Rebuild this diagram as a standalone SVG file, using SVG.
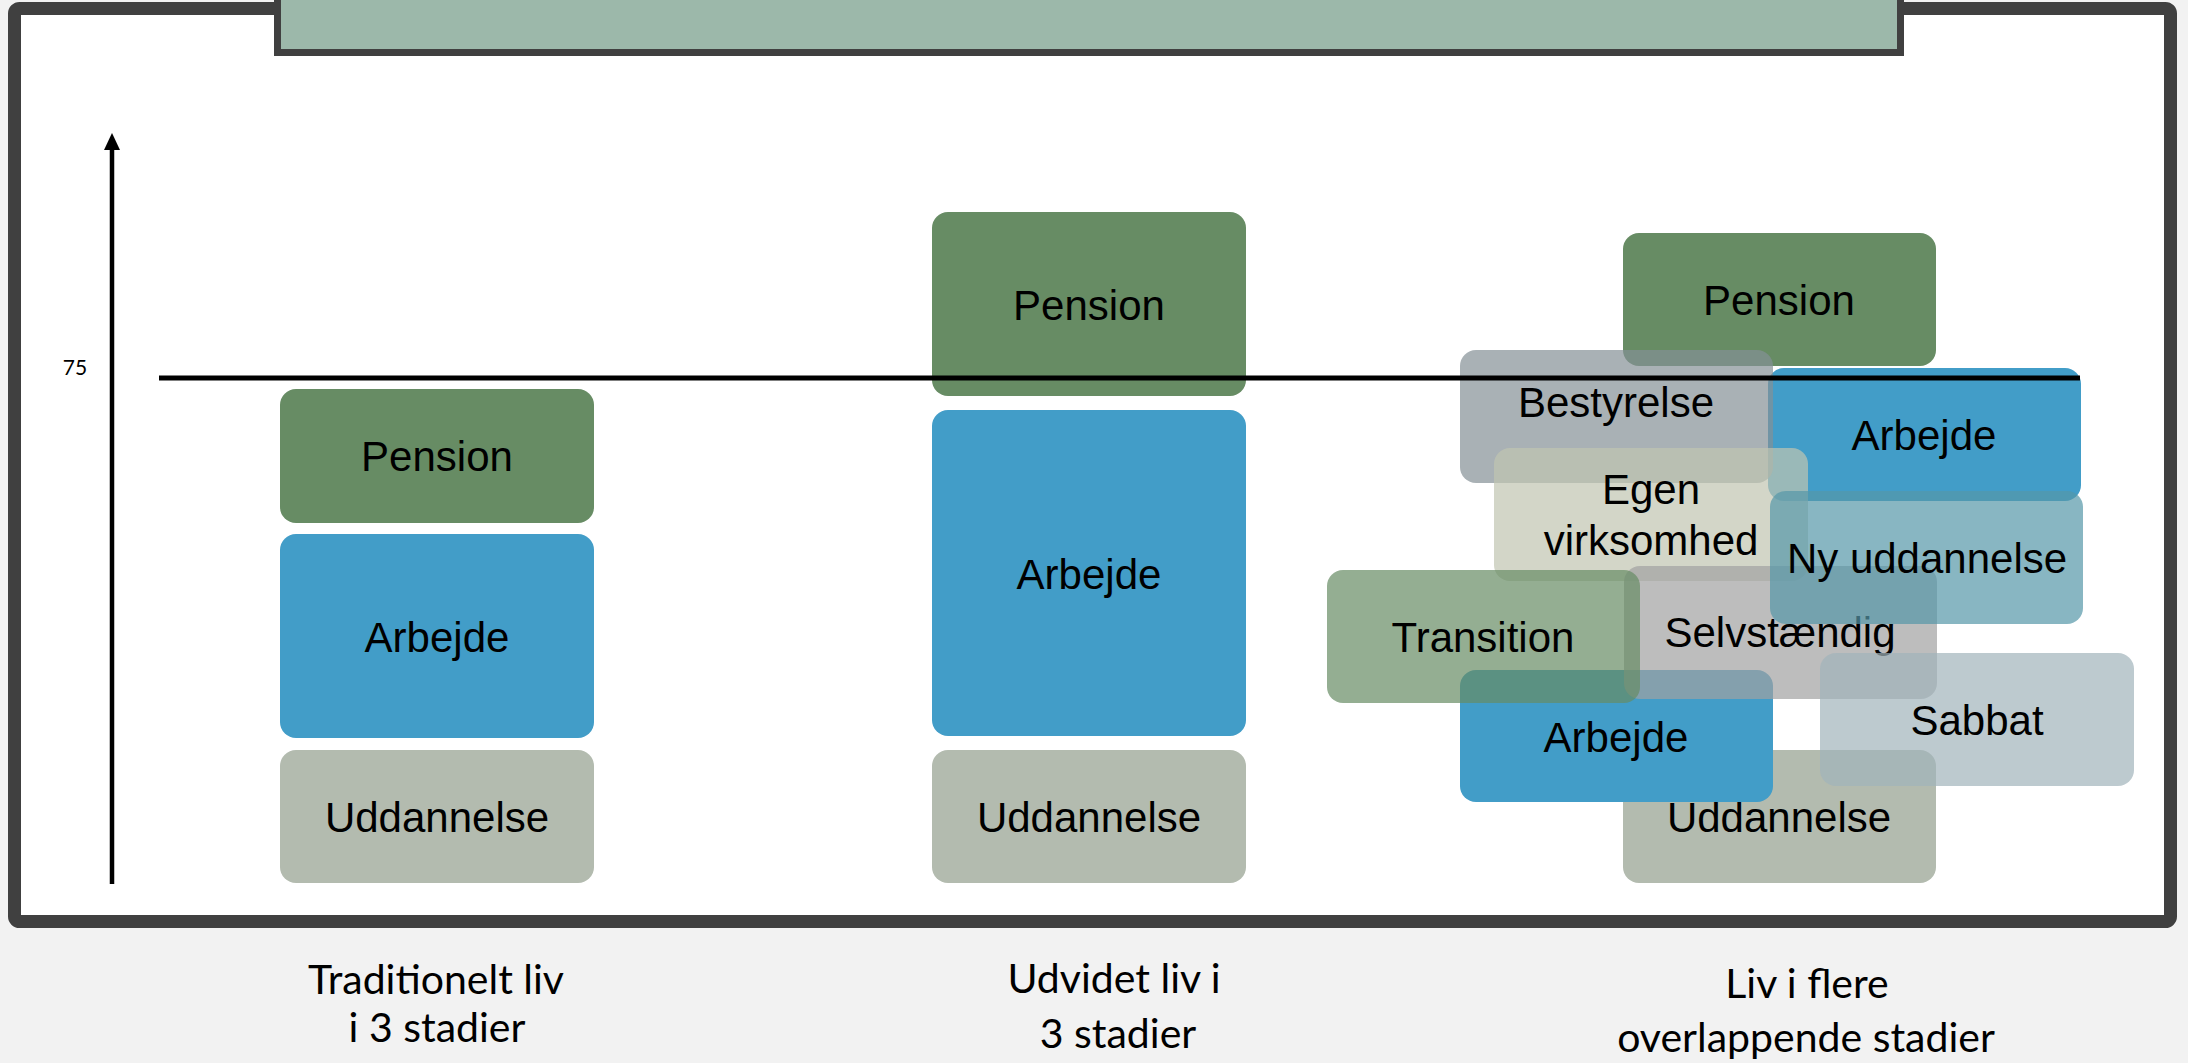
<svg xmlns="http://www.w3.org/2000/svg" width="2188" height="1063" viewBox="0 0 2188 1063">
<defs>
<style>
.bx{stroke:none}
.pen{fill:#678C64}
.arb{fill:#429DC8}
.udd{fill:#B3BBAF}
.t{font-family:"Liberation Sans",Arial,sans-serif;font-size:42px;fill:#000;text-anchor:middle}
.lbl{font-family:Lato,"Open Sans",sans-serif;font-size:41px;fill:#000;text-anchor:middle}
</style>
</defs>
<rect x="0" y="0" width="2188" height="1063" fill="#F2F2F2"/>
<rect id="frame" x="14.5" y="8.5" width="2156" height="913" rx="5" fill="#FFFFFF" stroke="#404040" stroke-width="13"/>
<rect id="title" x="277.5" y="-10" width="1623" height="62.5" fill="#9CB8AA" stroke="#404040" stroke-width="7"/>

<g id="axis">
<line x1="112" y1="884" x2="112" y2="148" stroke="#000" stroke-width="4.5"/>
<polygon points="112,133 104,150 120,150" fill="#000"/>
<text x="75" y="375" font-family="Lato,'Open Sans',sans-serif" font-size="21" text-anchor="middle" fill="#000">75</text>
</g>

<g id="col1">
<g id="c1-pension"><rect class="bx pen" x="280" y="389" width="314" height="134" rx="16"/><text class="t" x="437" y="471">Pension</text></g>
<g id="c1-arbejde"><rect class="bx arb" x="280" y="534" width="314" height="204" rx="16"/><text class="t" x="437" y="652">Arbejde</text></g>
<g id="c1-uddannelse"><rect class="bx udd" x="280" y="750" width="314" height="133" rx="16"/><text class="t" x="437" y="832">Uddannelse</text></g>
</g>

<g id="col2">
<g id="c2-pension"><rect class="bx pen" x="932" y="212" width="314" height="184" rx="16"/><text class="t" x="1089" y="320">Pension</text></g>
<g id="c2-arbejde"><rect class="bx arb" x="932" y="410" width="314" height="326" rx="16"/><text class="t" x="1089" y="589">Arbejde</text></g>
<g id="c2-uddannelse"><rect class="bx udd" x="932" y="750" width="314" height="133" rx="16"/><text class="t" x="1089" y="832">Uddannelse</text></g>
</g>

<g id="col3">
<g id="c3-uddannelse"><rect class="bx udd" x="1623" y="750" width="313" height="133" rx="16"/><text class="t" x="1779" y="832">Uddannelse</text></g>
<g id="c3-arbejde2"><rect class="bx arb" x="1460" y="670" width="313" height="132" rx="16"/><text class="t" x="1616" y="752">Arbejde</text></g>
<g id="c3-pension"><rect class="bx pen" x="1623" y="233" width="313" height="133" rx="16"/><text class="t" x="1779" y="315">Pension</text></g>
<g id="c3-arbejde1"><rect class="bx arb" x="1768" y="368" width="313" height="133" rx="16"/><text class="t" x="1924" y="450">Arbejde</text></g>
<g id="c3-bestyrelse"><rect class="bx" fill="rgb(132,144,149)" fill-opacity="0.7" x="1460" y="350" width="313" height="133" rx="16"/><text class="t" x="1616" y="417">Bestyrelse</text></g>
<g id="c3-egen"><rect class="bx" fill="rgb(192,196,176)" fill-opacity="0.7" x="1494" y="448" width="314" height="133" rx="16"/><text class="t" x="1651" y="504">Egen</text><text class="t" x="1651" y="555">virksomhed</text></g>
<g id="c3-selvstaendig"><rect class="bx" fill="rgb(161,161,161)" fill-opacity="0.7" x="1624" y="566" width="313" height="133" rx="16"/><text class="t" x="1780" y="647">Selvstændig</text></g>
<g id="c3-ny"><rect class="bx" fill="rgb(85,151,168)" fill-opacity="0.7" x="1770" y="491" width="313" height="133" rx="16"/><text class="t" x="1927" y="573">Ny uddannelse</text></g>
<g id="c3-transition"><rect class="bx" fill="rgb(103,140,100)" fill-opacity="0.7" x="1327" y="570" width="313" height="133" rx="16"/><text class="t" x="1483" y="652">Transition</text></g>
<g id="c3-sabbat"><rect class="bx" fill="rgb(161,179,186)" fill-opacity="0.7" x="1820" y="653" width="314" height="133" rx="16"/><text class="t" x="1977" y="735">Sabbat</text></g>
</g>

<g id="connectors">
<line x1="159" y1="378" x2="2080" y2="378" stroke="#000" stroke-width="5"/>
</g>

<g id="labels">
<text class="lbl" x="436" y="994">Traditionelt liv</text>
<text class="lbl" x="437" y="1042">i 3 stadier</text>
<text class="lbl" x="1114" y="993">Udvidet liv i</text>
<text class="lbl" x="1118" y="1048">3 stadier</text>
<text class="lbl" x="1807" y="998">Liv i flere</text>
<text class="lbl" x="1806" y="1052">overlappende stadier</text>
</g>
</svg>
